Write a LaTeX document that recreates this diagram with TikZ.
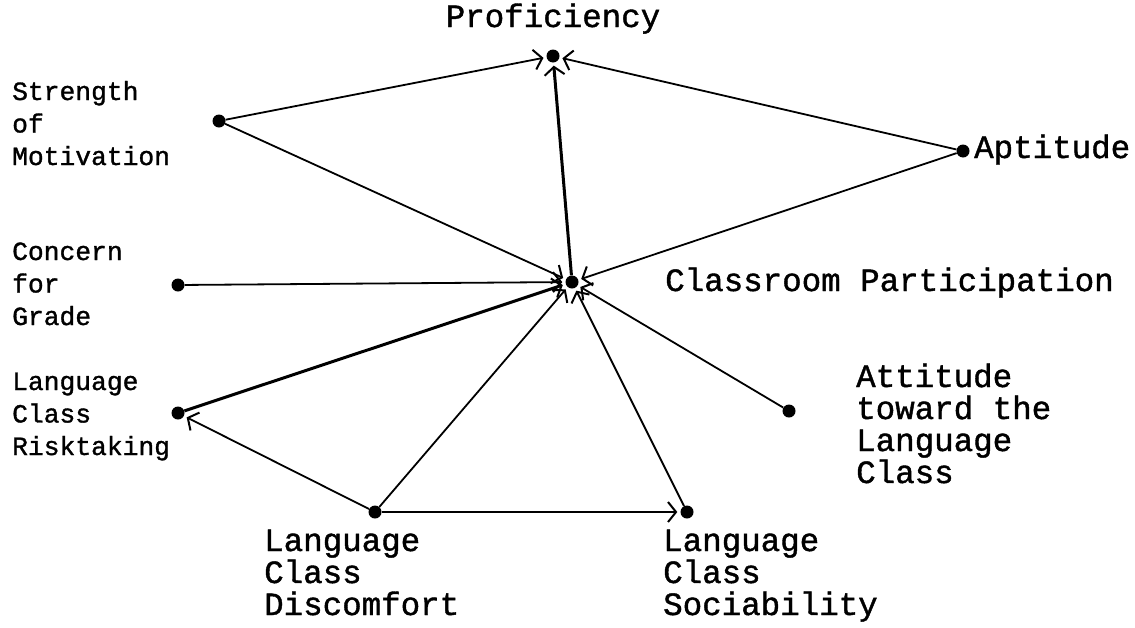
\documentclass[tikz,border=0pt]{standalone}
\usepackage{fontspec}
\newfontfamily\tw[FakeBold=1.2]{Liberation Mono}
\usetikzlibrary{arrows.meta}
\begin{document}
\begin{tikzpicture}[x=1pt,y=-1pt,
  dot/.style={circle,fill=black,inner sep=0pt,minimum size=13pt},
  big/.style={font=\tw\fontsize{32.5}{32}\selectfont,align=left,inner sep=0pt},
  small/.style={font=\tw\fontsize{26.3}{32.5}\selectfont,align=left,inner sep=0pt},
  arr/.style={-{Straight Barb[length=8pt,width=20pt,line width=2pt]},line width=1.8pt,shorten >=3pt},
  thk/.style={line width=3pt}]
\useasboundingbox (0,0) rectangle (1135,627);
% dots
\node[dot] (P) at (553,56) {};
\node[dot] (S) at (219,121) {};
\node[dot] (A) at (963,151) {};
\node[dot] (C) at (572,282) {};
\node[dot] (G) at (178,285) {};
\node[dot] (R) at (178,413) {};
\node[dot] (T) at (789,411) {};
\node[dot] (D) at (375,512) {};
\node[dot] (B) at (687,512) {};
% labels (base anchor = baseline of last line)
\node[big,anchor=base] (lP) at (553,27) {Proficiency};
\node[big,anchor=base west] (lA) at (974,158) {Aptitude};
\node[big,anchor=base west] (lC) at (665,291) {Classroom Participation};
\node[big,anchor=base west] (lT) at (856,483) {Attitude\\toward the\\Language\\Class};
\node[big,anchor=base west] (lD) at (264,615) {Language\\Class\\Discomfort};
\node[big,anchor=base west] (lB) at (663,615) {Language\\Class\\Sociability};
\node[small,anchor=base west] (lS) at (12,165) {Strength\\of\\Motivation};
\node[small,anchor=base west] (lG) at (12,325) {Concern\\for\\Grade};
\node[small,anchor=base west] (lR) at (12,455) {Language\\Class\\Risktaking};
% connectors
\draw[arr] (S) -- (P);
\draw[arr] (A) -- (P);
\draw[arr,thk] (C) -- (P);
\draw[arr] (S) -- (C);
\draw[arr] (A) -- (C);
\draw[arr] (G) -- (C);
\draw[arr,thk] (R) -- (C);
\draw[arr] (D) -- (C);
\draw[arr] (B) -- (C);
\draw[arr] (T) -- (C);
\draw[arr] (D) -- (R);
\draw[arr] (D) -- (B);
\end{tikzpicture}
\end{document}
